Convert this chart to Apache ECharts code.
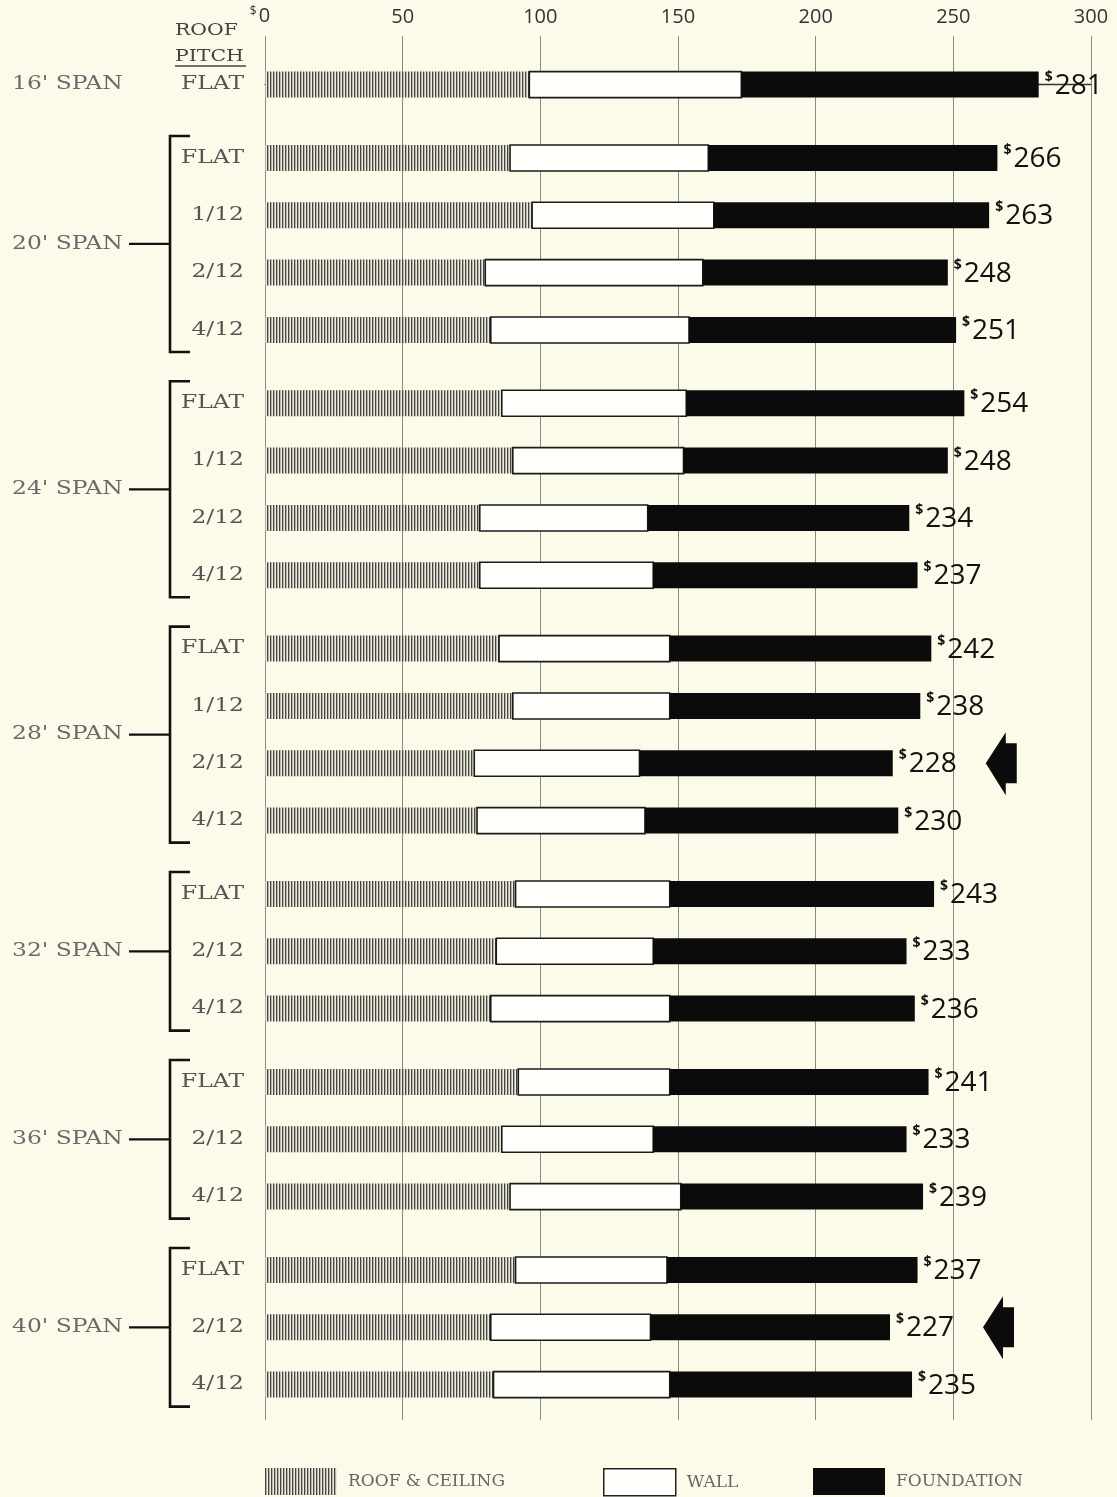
<!DOCTYPE html>
<html><head><meta charset="utf-8">
<script src="https://cdn.jsdelivr.net/npm/echarts@6/dist/echarts.min.js"></script>
<style>html,body{margin:0;padding:0;background:#fcfae9}#c{width:1117px;height:1497px}</style>
</head><body><div id="c"></div>
<script>
// ---- data ----
const spanLabels = ["16' SPAN", "20' SPAN", "24' SPAN", "28' SPAN", "32' SPAN", "36' SPAN", "40' SPAN"];
const rowGroup = [0, 1, 1, 1, 1, 2, 2, 2, 2, 3, 3, 3, 3, 4, 4, 4, 5, 5, 5, 6, 6, 6];
const rowPitch = ["FLAT", "FLAT", "1/12", "2/12", "4/12", "FLAT", "1/12", "2/12", "4/12", "FLAT", "1/12", "2/12", "4/12", "FLAT", "2/12", "4/12", "FLAT", "2/12", "4/12", "FLAT", "2/12", "4/12"];
const roofCost = [96, 89, 97, 80, 82, 86, 90, 78, 78, 85, 90, 76, 77, 91, 84, 82, 92, 86, 89, 91, 82, 83];
const wallCost = [77, 72, 66, 79, 72, 67, 62, 61, 63, 62, 57, 60, 61, 56, 57, 65, 55, 55, 62, 55, 58, 64];
const foundationCost = [108, 105, 100, 89, 97, 101, 96, 95, 96, 95, 91, 92, 92, 96, 92, 89, 94, 92, 88, 91, 87, 88];
const arrowRows = [11, 20]; // 28' SPAN 2/12 and 40' SPAN 2/12
const seriesNames = ["ROOF & CEILING", "WALL", "FOUNDATION"];
const xTickMin = 0, xTickMax = 300, xTickStep = 50;

// ---- layout helpers ----
const GROUP_GAP = 0.279;
const rowPos = rowGroup.map((g, i) => i + g * GROUP_GAP);

// hatch pattern
const pc = document.createElement('canvas');
pc.width = 3; pc.height = 4;
const pctx = pc.getContext('2d');
pctx.fillStyle = '#eeecdc'; pctx.fillRect(0, 0, 3, 4);
pctx.fillStyle = '#444444'; pctx.fillRect(0, 0, 1, 4);
pctx.fillStyle = '#b5b3a6'; pctx.fillRect(1, 0, 1, 4);
const hatch = { image: pc, repeat: 'repeat' };

const BAR_H = 26;
const SERIF = '"DejaVu Serif", serif';
const SANS = '"Open Sans", "Noto Sans", sans-serif';

function makeSeg(idx) {
  return rowPos.map((p, i) => {
    const r = roofCost[i], w = wallCost[i], f = foundationCost[i];
    const starts = [0, r, r + w];
    const ends = [r, r + w, r + w + f];
    return [starts[idx], ends[idx], p];
  });
}
function segRender(fill, stroke, lw) {
  return function (params, api) {
    const a = api.coord([api.value(0), api.value(2)]);
    const b = api.coord([api.value(1), api.value(2)]);
    return {
      type: 'rect',
      shape: { x: a[0], y: a[1] - BAR_H / 2, width: b[0] - a[0], height: BAR_H },
      style: { fill: fill, stroke: stroke || null, lineWidth: lw || 0 }
    };
  };
}

const labelData = rowPos.map((p, i) => [roofCost[i] + wallCost[i] + foundationCost[i], p, i]);
const groupData = spanLabels.map((s, g) => {
  const ps = rowPos.filter((p, i) => rowGroup[i] === g);
  return [ps[0], ps[ps.length - 1], g];
});

const legendBase = {
  top: 1468, itemWidth: 72, itemHeight: 27, icon: 'rect', padding: 0,
  selectedMode: false, itemGap: 0,
  textStyle: { fontFamily: SERIF, fontSize: 17, color: '#666', padding: [0, 0, 0, 6] }
};
const legendItems = [
  { name: seriesNames[0], itemStyle: { color: hatch, borderWidth: 0 } },
  { name: seriesNames[1], itemStyle: { color: '#fffffc', borderColor: '#222', borderWidth: 1.5 } },
  { name: seriesNames[2], itemStyle: { color: '#0b0b0b', borderWidth: 0 } }
];
const legendLeft = [265, 603, 813];

const chart = echarts.init(document.getElementById('c'));
chart.setOption({
  backgroundColor: '#fcfae9',
  animation: false,
  grid: { left: 265, right: 26, top: 36, bottom: 77 },
  xAxis: {
    type: 'value', position: 'top', min: xTickMin, max: xTickMax, interval: xTickStep,
    axisLine: { show: true, lineStyle: { color: '#333', width: 1.3 } },
    axisTick: { show: false },
    splitLine: { show: true, lineStyle: { color: '#8a8a85', width: 1 } },
    axisLabel: {
      margin: 9, color: '#333', fontFamily: SANS, fontSize: 20,
      formatter: v => v === 0 ? '{d|$}{z|0}' : '{n|' + v + '}',
      rich: {
        d: { fontSize: 12, fontFamily: SANS, color: '#333', padding: [0, 2, 9, 0] },
        z: { fontSize: 20, fontFamily: SANS, color: '#333', padding: [0, 10, 0, 0] },
        n: { fontSize: 20, fontFamily: SANS, color: '#333' }
      }
    }
  },
  yAxis: { type: 'value', inverse: true, min: -0.848, max: 23.291, show: false },
  legend: legendItems.map((it, k) => Object.assign({}, legendBase, { left: legendLeft[k], data: [it] })),
  graphic: [
    { type: 'text', x: 175, y: 31, scaleX: 1.2, style: { text: 'ROOF', fontFamily: SERIF, fontSize: 17, fill: '#444', verticalAlign: 'middle' } },
    { type: 'text', x: 175, y: 57, scaleX: 1.2, style: { text: 'PITCH', fontFamily: SERIF, fontSize: 17, fill: '#444', verticalAlign: 'middle' } },
    { type: 'line', shape: { x1: 175, y1: 66, x2: 246, y2: 66 }, style: { stroke: '#444', lineWidth: 1.5 } }
  ],
  series: [
    { name: seriesNames[0], type: 'custom', itemStyle: { color: hatch }, encode: { x: [0, 1], y: 2 },
      data: makeSeg(0), renderItem: segRender(hatch) },
    { name: seriesNames[1], type: 'custom', itemStyle: { color: '#fffffc', borderColor: '#222' }, encode: { x: [0, 1], y: 2 },
      data: makeSeg(1), renderItem: segRender('#fffffc', '#1a1a1a', 1.6) },
    { name: seriesNames[2], type: 'custom', itemStyle: { color: '#0b0b0b' }, encode: { x: [0, 1], y: 2 },
      data: makeSeg(2), renderItem: segRender('#0b0b0b') },
    { name: 'labels', type: 'custom', encode: { x: 0, y: 1 }, data: labelData, z: 5,
      renderItem: function (params, api) {
        const total = api.value(0), p = api.value(1), i = api.value(2);
        const e = api.coord([total, p]);
        const x0 = api.coord([0, p])[0];
        const ch = [
          { type: 'text', x: e[0] + 6, y: e[1] - 8, style: { text: '$', fontFamily: SANS, fontSize: 14, fontWeight: 'bold', fill: '#111', verticalAlign: 'middle' } },
          { type: 'text', x: e[0] + 16, y: e[1] + 1, style: { text: String(total), fontFamily: SANS, fontSize: 28, fill: '#111', verticalAlign: 'middle' } },
          { type: 'text', x: x0 - 21, y: e[1], scaleX: 1.3, style: { text: rowPitch[i], fontFamily: SERIF, fontSize: 18, fill: '#555', align: 'right', verticalAlign: 'middle' } }
        ];
        if (arrowRows.indexOf(i) >= 0) {
          const t = e[0] + 93, y = e[1];
          ch.push({ type: 'polygon', shape: { points: [[t, y], [t + 20, y - 31], [t + 20, y - 20], [t + 31, y - 20], [t + 31, y + 20], [t + 20, y + 20], [t + 20, y + 32]] }, style: { fill: '#0b0b0b' } });
        }
        return { type: 'group', children: ch };
      } },
    { name: 'groups', type: 'custom', encode: { y: [0, 1] }, data: groupData, z: 5,
      renderItem: function (params, api) {
        const p1 = api.value(0), p2 = api.value(1), g = api.value(2);
        const a = api.coord([0, p1]), b = api.coord([0, p2]);
        const gl = a[0];
        const mid = (a[1] + b[1]) / 2;
        const ch = [
          { type: 'text', x: gl - 253, y: mid, scaleX: 1.3, style: { text: spanLabels[g], fontFamily: SERIF, fontSize: 18, fill: '#6a6a6a', verticalAlign: 'middle' } }
        ];
        if (p2 > p1) {
          const bx = gl - 95;
          ch.push({ type: 'polyline', shape: { points: [[bx + 20, a[1] - 22], [bx, a[1] - 22], [bx, b[1] + 22], [bx + 20, b[1] + 22]] }, style: { stroke: '#111', lineWidth: 2.6, fill: null } });
          ch.push({ type: 'line', shape: { x1: gl - 136, y1: mid, x2: bx, y2: mid }, style: { stroke: '#111', lineWidth: 2.2 } });
        }
        return { type: 'group', children: ch };
      } }
  ]
});
</script>
</body></html>
